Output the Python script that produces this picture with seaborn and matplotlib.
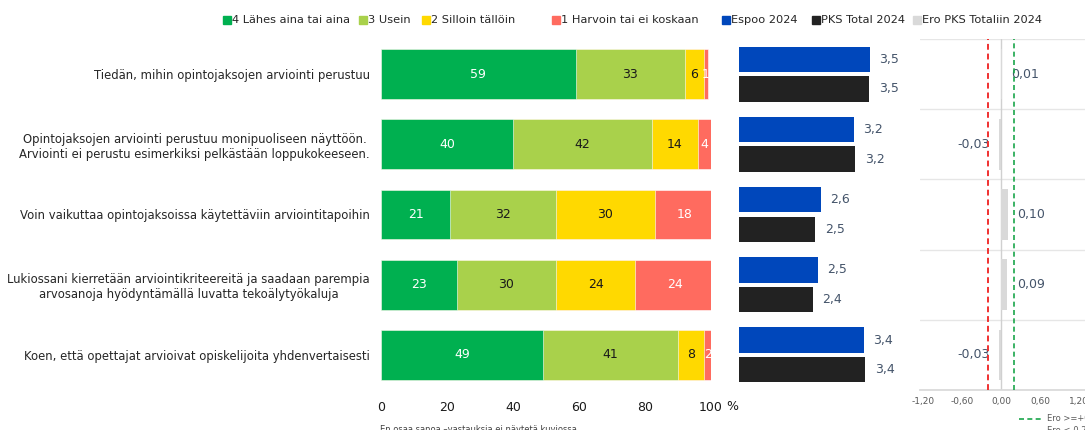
import numpy as np
import pandas as pd
import matplotlib
matplotlib.use("Agg")
import matplotlib.pyplot as plt
import seaborn as sns
from matplotlib.patches import Rectangle
from matplotlib.lines import Line2D

# ---------------- data ----------------
categories = [
    "Tiedän, mihin opintojaksojen arviointi perustuu",
    "Opintojaksojen arviointi perustuu monipuoliseen näyttöön.\nArviointi ei perustu esimerkiksi pelkästään loppukokeeseen.",
    "Voin vaikuttaa opintojaksoissa käytettäviin arviointitapoihin",
    "Lukiossani kierretään arviointikriteereitä ja saadaan parempia\narvosanoja hyödyntämällä luvatta tekoälytyökaluja",
    "Koen, että opettajat arvioivat opiskelijoita yhdenvertaisesti",
]
likert_labels = ["4 Lähes aina tai aina", "3 Usein", "2 Silloin tällöin", "1 Harvoin tai ei koskaan"]
lahes_aina = [59, 40, 21, 23, 49]
usein = [33, 42, 32, 30, 41]
silloin_talloin = [6, 14, 30, 24, 8]
harvoin = [1, 4, 18, 24, 2]

mean_labels = ["Espoo 2024", "PKS Total 2024"]
espoo_2024 = [3.50, 3.19, 2.56, 2.50, 3.38]
pks_total_2024 = [3.49, 3.22, 2.46, 2.41, 3.41]
diff_label = "Ero PKS Totaliin 2024"
ero_pks_total = [0.01, -0.03, 0.10, 0.09, -0.03]

pct_ticks = [0, 20, 40, 60, 80, 100]
diff_ticks = [-1.2, -0.6, 0.0, 0.6, 1.2]
threshold_labels = ["Ero >=+0,2", "Ero <-0,2"]
note_text = "En osaa sanoa –vastauksia ei näytetä kuviossa"

# ---------------- style ----------------
sns.set_theme(style="white")
plt.rcParams["font.family"] = ["DejaVu Sans"]

C_LIKERT = ["#00b050", "#a9d14b", "#ffd900", "#ff6b5f"]
C_LIKERT_TXT = ["white", "#1a1a1a", "#1a1a1a", "white"]
C_MEAN = ["#0047bb", "#222222"]
C_DIFF = "#d9d9d9"
C_VAL = "#44546a"

W, H = 1085, 430
fig = plt.figure(figsize=(W / 100, H / 100), dpi=100)

def px_axes(x0, x1, y0, y1):
    return fig.add_axes([x0 / W, 1 - y1 / H, (x1 - x0) / W, (y1 - y0) / H])

TOP, BOT = 39, 390
ax1 = px_axes(381, 711, TOP, BOT)
ax2 = px_axes(739, 896, TOP, BOT)
ax3 = px_axes(920, 1085.75, TOP, BOT)

def fmt(v, d):
    return f"{v:.{d}f}".replace(".", ",")

# ---------------- stacked percentage bars ----------------
parts = [lahes_aina, usein, silloin_talloin, harvoin]
cums = np.cumsum(np.array(parts, dtype=float), axis=0)
for k in range(3, -1, -1):
    sns.barplot(x=cums[k], y=categories, orient="h", color=C_LIKERT[k],
                saturation=1, width=0.71, ax=ax1, edgecolor="white", linewidth=0.4)
for k in range(4):
    starts = cums[k] - np.array(parts[k])
    for i, v in enumerate(parts[k]):
        ax1.text(starts[i] + v / 2, i, str(v), ha="center", va="center",
                 fontsize=9, color=C_LIKERT_TXT[k])
ax1.set_xlim(0, 100)
ax1.set_ylim(4.5, -0.5)
ax1.set_xticks(pct_ticks)
ax1.set_xticklabels([str(t) for t in pct_ticks])
ax1.set_xlabel("")
ax1.set_ylabel("")
ax1.tick_params(axis="both", length=0)
ax1.tick_params(axis="x", pad=8, labelsize=9, labelcolor="#1a1a1a")
ax1.tick_params(axis="y", pad=8, labelsize=8.4, labelcolor="#262626")
for lab in ax1.get_yticklabels():
    lab.set_multialignment("center")
for s in ax1.spines.values():
    s.set_visible(False)
fig.text(726 / W, 1 - 406 / H, "%", ha="left", va="center",
         fontsize=9, color="#1a1a1a")

# ---------------- mean bars ----------------
df_mean = pd.DataFrame({
    "kysymys": categories * 2,
    "sarja": [mean_labels[0]] * len(categories) + [mean_labels[1]] * len(categories),
    "ka": espoo_2024 + pks_total_2024,
})
sns.barplot(data=df_mean, x="ka", y="kysymys", hue="sarja", orient="h",
            palette=C_MEAN, saturation=1, width=0.84, gap=0.14, ax=ax2,
            legend=False, linewidth=0)
for cont, vals in zip(ax2.containers, [espoo_2024, pks_total_2024]):
    ax2.bar_label(cont, labels=[fmt(v, 1) for v in vals], padding=7,
                  fontsize=9, color=C_VAL)
ax2.set_xlim(1, 4)
ax2.set_ylim(4.5, -0.5)
ax2.axis("off")

# ---------------- difference bars ----------------
sns.barplot(x=ero_pks_total, y=categories, orient="h", color=C_DIFF,
            saturation=1, width=0.72, ax=ax3, linewidth=0)
ax3.bar_label(ax3.containers[0], labels=[fmt(v, 2) for v in ero_pks_total],
              padding=7, fontsize=9, color=C_VAL)
for yb in np.arange(-0.5, 5.0, 1.0):
    ax3.axhline(yb, color="#e6e6e6", lw=1, zorder=0)
ax3.axvline(0, color="#d0d0d0", lw=1, zorder=0.5)
ax3.axvline(-0.2, color="#f03030", lw=1.4, ls=(0, (3, 2)), zorder=3)
ax3.axvline(0.2, color="#1aa64a", lw=1.2, ls=(0, (3, 2)), zorder=3)
ax3.set_xlim(-1.25, 1.30)
ax3.set_ylim(4.5, -0.5)
ax3.set_xticks(diff_ticks)
ax3.set_xticklabels([fmt(t, 2) for t in diff_ticks])
ax3.set_yticks([])
ax3.set_xlabel("")
ax3.set_ylabel("")
ax3.tick_params(axis="x", length=0, pad=5, labelsize=6.5, labelcolor="#595959")
for name, s in ax3.spines.items():
    s.set_visible(name == "bottom")
ax3.spines["bottom"].set_color("#d9d9d9")

# ---------------- top legend ----------------
leg_colors = C_LIKERT + C_MEAN + [C_DIFF]
leg_texts = likert_labels + mean_labels + [diff_label]
leg_x = [223, 359, 422, 552, 722, 812, 913]
for x, c, t in zip(leg_x, leg_colors, leg_texts):
    fig.patches.append(Rectangle((x / W, 1 - 24 / H), 8 / W, 8 / H,
                                 transform=fig.transFigure, color=c))
    fig.text((x + 9) / W, 1 - 20 / H, t, ha="left", va="center",
             fontsize=8.2, color="#262626")

# ---------------- bottom notes / threshold legend ----------------
fig.text(380 / W, 1 - 429 / H, note_text, ha="left", va="center",
         fontsize=6, color="#404040")
for yy, c, t in zip([419, 431], ["#1aa64a", "#f03030"], threshold_labels):
    fig.lines.append(Line2D([1019 / W, 1043 / W], [1 - yy / H, 1 - yy / H],
                            transform=fig.transFigure, color=c, lw=1.2,
                            ls=(0, (3, 2))))
    fig.text(1047 / W, 1 - yy / H, t, ha="left", va="center", fontsize=6,
             color="#595959")

fig.savefig("out.png", dpi=100)
